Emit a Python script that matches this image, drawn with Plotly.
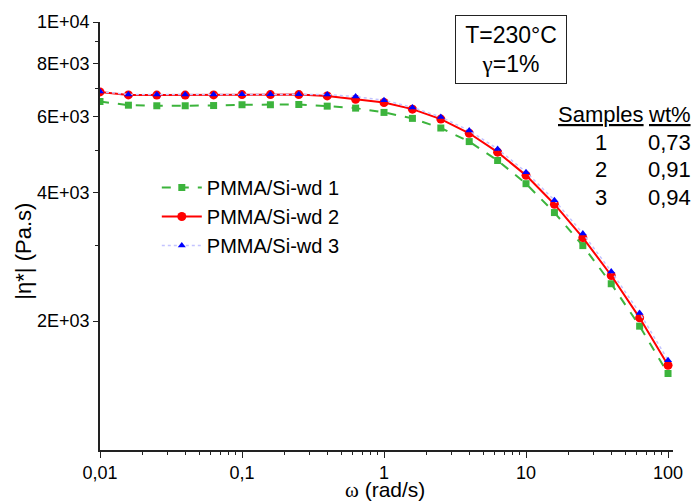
import plotly.graph_objects as go

# angular frequency (rad/s): 5 points per decade from 0.01 to 100
omega = [0.01, 0.01585, 0.02512, 0.03981, 0.0631, 0.1, 0.1585, 0.2512, 0.3981, 0.631,
         1.0, 1.585, 2.512, 3.981, 6.31, 10.0, 15.85, 25.12, 39.81, 63.1, 100.0]

eta_1 = [6520, 6392, 6372, 6372, 6380, 6407, 6407, 6416, 6359, 6292,
         6148, 5954, 5653, 5255, 4747, 4190, 3587, 3003, 2446, 1947, 1509]
eta_2 = [6866, 6756, 6750, 6750, 6756, 6767, 6767, 6767, 6720, 6600,
         6485, 6258, 5932, 5495, 4964, 4382, 3752, 3134, 2557, 2036, 1578]
eta_3 = [6877, 6773, 6767, 6767, 6770, 6775, 6775, 6775, 6767, 6695,
         6563, 6316, 5996, 5575, 5052, 4459, 3833, 3206, 2613, 2091, 1621]

names = ["PMMA/Si-wd 1", "PMMA/Si-wd 2", "PMMA/Si-wd 3"]

x_tickvals = [0.01, 0.1, 1, 10, 100]
x_ticktext = ["0,01", "0,1", "1", "10", "100"]
y_tickvals = [2000, 4000, 6000, 8000, 10000]
y_ticktext = ["2E+03", "4E+03", "6E+03", "8E+03", "1E+04"]
y_minor = [3000, 5000, 7000, 9000]

samples = ["1", "2", "3"]
wt = ["0,73", "0,91", "0,94"]

FONT = "Liberation Sans, Arial, sans-serif"

# plot area in pixels
L, R, T, B = 100, 675, 19, 450
W, H = 695, 502


def px(x):
    return (x - L) / (R - L)


def py(y):
    return (B - y) / (B - T)


fig = go.Figure()
fig.add_trace(go.Scatter(x=omega, y=eta_1, name=names[0], mode="lines+markers",
                         line=dict(color="#3cb43c", width=2, dash="dash"),
                         marker=dict(symbol="square", size=7, color="#3cb43c")))
fig.add_trace(go.Scatter(x=omega, y=eta_2, name=names[1], mode="lines+markers",
                         line=dict(color="#ff0000", width=2),
                         marker=dict(symbol="circle", size=9, color="#ff0000")))
fig.add_trace(go.Scatter(x=omega, y=eta_3, name=names[2], mode="lines+markers",
                         line=dict(color="#c4c4ff", width=1.5, dash="dot"),
                         marker=dict(symbol="triangle-up", size=7, color="#0000ff")))

minor_x = [m * 10 ** e for e in range(-2, 2) for m in range(2, 10)]

fig.update_xaxes(type="log", range=[-2, 2.035], tickmode="array",
                 tickvals=x_tickvals, ticktext=x_ticktext,
                 ticks="outside", ticklen=6, tickwidth=1.2, tickcolor="#222",
                 showline=True, linecolor="#222", linewidth=1.5,
                 showgrid=False, zeroline=False,
                 tickfont=dict(family=FONT, size=18, color="black"),
                 minor=dict(tickmode="array", tickvals=minor_x, ticks="outside",
                            ticklen=3, tickwidth=1.2, tickcolor="#222", showgrid=False))
fig.update_yaxes(type="log", range=[3, 4], tickmode="array",
                 tickvals=y_tickvals, ticktext=y_ticktext,
                 ticks="outside", ticklen=5, tickwidth=1.2, tickcolor="#222",
                 showline=True, linecolor="#222", linewidth=1.5,
                 showgrid=False, zeroline=False,
                 tickfont=dict(family=FONT, size=18, color="black"),
                 minor=dict(tickmode="array", tickvals=y_minor, ticks="outside",
                            ticklen=3, tickwidth=1.2, tickcolor="#222", showgrid=False))

ann = []
# axis titles
ann.append(dict(x=px(386), y=py(490), xref="paper", yref="paper",
                text="<span style='font-family:Liberation Serif'>ω</span> (rad/s)",
                showarrow=False, font=dict(family=FONT, size=21, color="black"),
                xanchor="center", yanchor="middle"))
ann.append(dict(x=px(23), y=py(250), xref="paper", yref="paper",
                text="|η*| (Pa.s)", textangle=-90,
                showarrow=False, font=dict(family=FONT, size=22, color="black"),
                xanchor="center", yanchor="middle"))
# condition box
ann.append(dict(x=px(512.5), y=py(46.5), xref="paper", yref="paper",
                text="T=230°C<br><span style='font-family:Liberation Serif'>γ</span>=1%",
                showarrow=False, font=dict(family=FONT, size=23, color="black"),
                xanchor="center", yanchor="middle", align="center",
                bordercolor="#222", borderwidth=1, borderpad=2,
                width=106, height=63))
# samples table
ann.append(dict(x=px(603), y=py(112), xref="paper", yref="paper",
                text="<u>Samples</u>", showarrow=False,
                font=dict(family=FONT, size=22, color="black"),
                xanchor="center", yanchor="middle"))
ann.append(dict(x=px(671), y=py(112), xref="paper", yref="paper",
                text="<u>wt%</u>", showarrow=False,
                font=dict(family=FONT, size=22, color="black"),
                xanchor="center", yanchor="middle"))
for i, (s, w) in enumerate(zip(samples, wt)):
    yy = 140 + i * 27.7
    ann.append(dict(x=px(603), y=py(yy), xref="paper", yref="paper", text=s,
                    showarrow=False, font=dict(family=FONT, size=22, color="black"),
                    xanchor="center", yanchor="middle"))
    ann.append(dict(x=px(671), y=py(yy), xref="paper", yref="paper", text=w,
                    showarrow=False, font=dict(family=FONT, size=22, color="black"),
                    xanchor="center", yanchor="middle"))

fig.update_layout(
    width=W, height=H,
    margin=dict(l=L, r=W - R, t=T, b=H - B),
    paper_bgcolor="white", plot_bgcolor="white",
    showlegend=True,
    legend=dict(x=px(157), y=py(166), xanchor="left", yanchor="top",
                bgcolor="rgba(0,0,0,0)", font=dict(family=FONT, size=20, color="black"),
                tracegroupgap=0, itemwidth=40),
    annotations=ann,
    font=dict(family=FONT, color="black"),
)

fig.write_html("out.html", config={"displayModeBar": False},
               post_script="document.body.style.margin='0';")
